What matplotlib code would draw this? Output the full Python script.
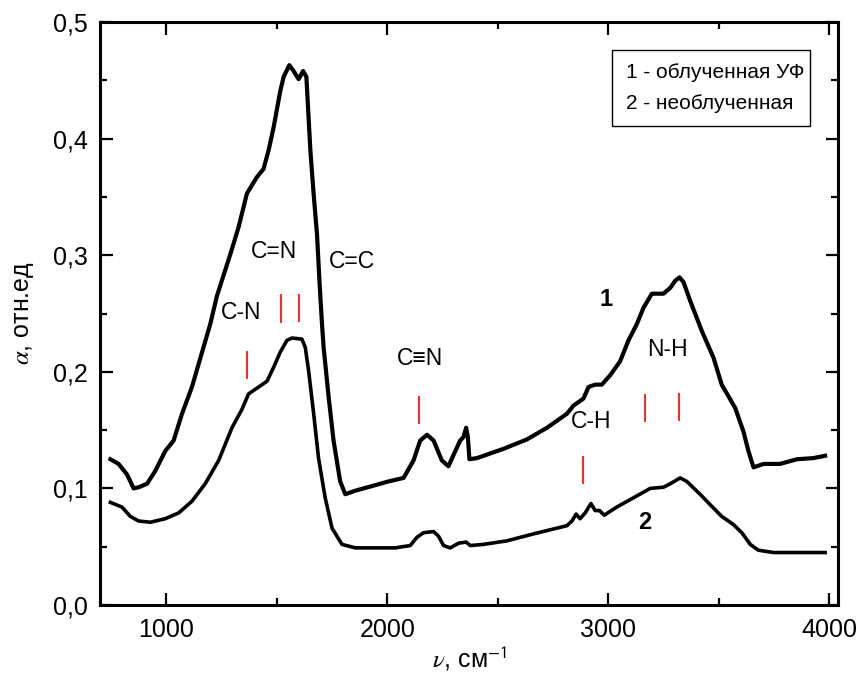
import numpy as np
import matplotlib
matplotlib.use("Agg")
import matplotlib.pyplot as plt
from matplotlib.patches import Rectangle
from matplotlib.ticker import MultipleLocator, FuncFormatter

plt.rcParams['font.family'] = ['Liberation Sans', 'DejaVu Sans']
plt.rcParams['mathtext.fontset'] = 'stix'

# IR spectrum, irradiated film (curve 1)
nu1 = [747, 784, 822, 852, 875, 913, 950, 995, 1033, 1071, 1116, 1162, 1199, 1229,
       1290, 1327, 1365, 1410, 1440, 1463, 1486, 1516, 1531, 1557, 1576, 1599, 1619,
       1634, 1644, 1652, 1667, 1682, 1694, 1705, 1712, 1735, 1757, 1787, 1810, 1855,
       1931, 2006, 2074, 2119, 2149, 2180, 2210, 2247, 2277, 2308, 2330, 2345, 2357,
       2365, 2372, 2406, 2527, 2632, 2723, 2813, 2843, 2888, 2911, 2941, 2971, 3009,
       3054, 3092, 3130, 3160, 3198, 3250, 3281, 3303, 3323, 3341, 3371, 3424, 3477,
       3514, 3575, 3612, 3635, 3658, 3703, 3778, 3854, 3929, 3982]
a1 = [0.125, 0.121, 0.112, 0.100, 0.101, 0.104, 0.115, 0.132, 0.141, 0.164, 0.187,
      0.217, 0.241, 0.265, 0.301, 0.324, 0.353, 0.367, 0.374, 0.390, 0.410, 0.441,
      0.453, 0.463, 0.458, 0.451, 0.458, 0.453, 0.418, 0.390, 0.352, 0.318, 0.275,
      0.240, 0.221, 0.178, 0.141, 0.106, 0.095, 0.098, 0.102, 0.106, 0.109, 0.124,
      0.141, 0.146, 0.141, 0.124, 0.119, 0.132, 0.141, 0.144, 0.152, 0.144, 0.125,
      0.126, 0.134, 0.142, 0.152, 0.164, 0.171, 0.177, 0.187, 0.189, 0.189, 0.197,
      0.209, 0.227, 0.241, 0.255, 0.267, 0.267, 0.272, 0.278, 0.281, 0.277, 0.261,
      0.235, 0.212, 0.189, 0.169, 0.149, 0.132, 0.118, 0.121, 0.121, 0.125, 0.126,
      0.128]

# non-irradiated film (curve 2)
nu2 = [747, 799, 837, 875, 928, 995, 1056, 1116, 1176, 1237, 1297, 1343, 1372, 1418,
       1456, 1486, 1516, 1546, 1569, 1614, 1629, 1644, 1667, 1689, 1719, 1750, 1795,
       1855, 2036, 2104, 2134, 2164, 2210, 2232, 2255, 2285, 2323, 2357, 2376, 2436,
       2541, 2662, 2813, 2836, 2855, 2873, 2896, 2922, 2941, 2961, 2982, 3039, 3115,
       3190, 3250, 3281, 3326, 3356, 3416, 3462, 3514, 3567, 3605, 3643, 3680, 3748,
       3869, 3982]
a2 = [0.088, 0.084, 0.076, 0.072, 0.071, 0.074, 0.079, 0.089, 0.104, 0.124, 0.152,
      0.168, 0.181, 0.187, 0.192, 0.204, 0.217, 0.227, 0.229, 0.228, 0.221, 0.201,
      0.164, 0.126, 0.092, 0.066, 0.052, 0.049, 0.049, 0.051, 0.058, 0.062, 0.063,
      0.059, 0.051, 0.049, 0.053, 0.054, 0.051, 0.052, 0.055, 0.061, 0.068, 0.072,
      0.078, 0.074, 0.079, 0.087, 0.081, 0.081, 0.077, 0.084, 0.092, 0.100, 0.101,
      0.104, 0.109, 0.106, 0.095, 0.086, 0.076, 0.069, 0.062, 0.052, 0.047, 0.045,
      0.045, 0.045]

# band assignments: red markers (position, bottom, top)
mark_nu = [1365, 1518, 1602, 2146, 2884, 3165, 3322]
mark_lo = [0.194, 0.242, 0.243, 0.155, 0.104, 0.157, 0.158]
mark_hi = [0.218, 0.267, 0.267, 0.179, 0.128, 0.181, 0.182]

band_names = ['C-N', 'C=N', 'C=C', 'C≡N', 'C-H', 'N-H']
band_x = [1337, 1489, 1840, 2149, 2922, 3269]
band_y = [0.251, 0.303, 0.295, 0.211, 0.157, 0.219]

legend_lines = ['1 - облученная УФ', '2 - необлученная']

fig = plt.figure(figsize=(8.58, 6.82), dpi=100)
ax = fig.add_axes([0.1166, 0.1129, 0.86, 0.8548])

ax.plot(nu1, a1, color='black', lw=3.0, solid_joinstyle='round')
ax.plot(nu2, a2, color='black', lw=2.6, solid_joinstyle='round')
ax.vlines(mark_nu, mark_lo, mark_hi, colors='red', lw=1.2)

for name, x, y in zip(band_names, band_x, band_y):
    ax.text(x, y, name, fontsize=16.5, ha='center', va='center')

ax.text(2990, 0.262, '1', fontsize=17, fontweight='bold', ha='center', va='center')
ax.text(3165, 0.071, '2', fontsize=17, fontweight='bold', ha='center', va='center')

# legend box: plain text entries in a frame
ax.add_patch(Rectangle((0.694, 0.822), 0.268, 0.130, transform=ax.transAxes,
                       fc='white', ec='black', lw=1.0, zorder=5))
for i, line in enumerate(legend_lines):
    ax.text(0.713, 0.913 - i * 0.053, line, transform=ax.transAxes,
            fontsize=15, ha='left', va='center', zorder=6)

ax.set_xlim(700, 4040)
ax.set_ylim(0, 0.5)
ax.xaxis.set_major_locator(MultipleLocator(1000))
ax.xaxis.set_minor_locator(MultipleLocator(500))
ax.yaxis.set_major_locator(MultipleLocator(0.1))
ax.yaxis.set_minor_locator(MultipleLocator(0.05))
ax.yaxis.set_major_formatter(FuncFormatter(lambda v, p: f'{v:.1f}'.replace('.', ',')))

ax.tick_params(which='both', direction='in', top=True, right=True, width=1.6)
ax.tick_params(which='major', length=9, labelsize=18, pad=9)
ax.tick_params(which='minor', length=5)
for s in ax.spines.values():
    s.set_linewidth(2.2)

ax.set_xlabel(r'$\nu$, см$^{\mathsf{-1}}$', fontsize=18, labelpad=2)
ax.set_ylabel(r'$\alpha$, отн.ед', fontsize=18, labelpad=12)

fig.savefig('out.png', dpi=100)
